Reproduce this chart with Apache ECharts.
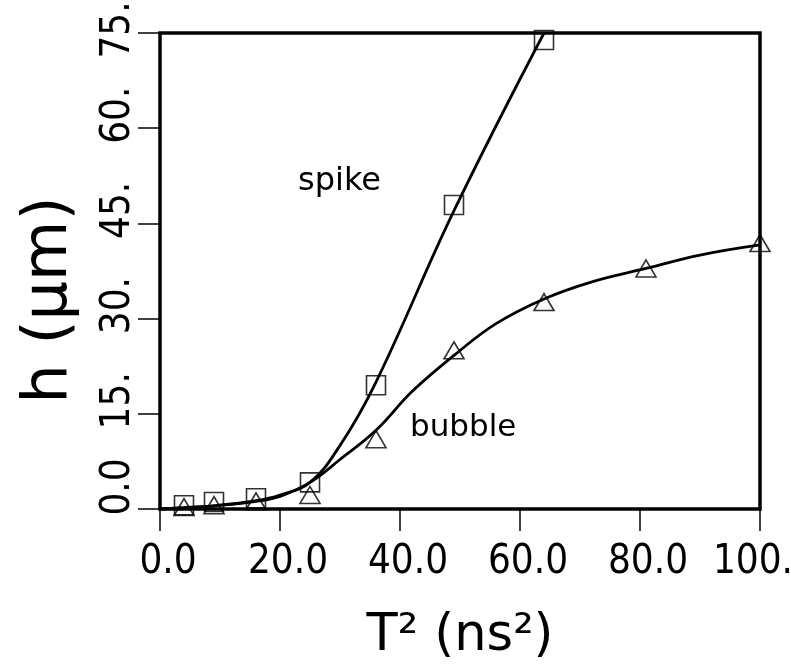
<!DOCTYPE html>
<html>
<head>
<meta charset="utf-8">
<script src="https://cdn.jsdelivr.net/npm/echarts@6/dist/echarts.min.js"></script>
<style>
html,body{margin:0;padding:0;background:#fff;}
#chart{width:791px;height:669px;}
</style>
</head>
<body>
<div id="chart"></div>
<script>
// Data
const xTickLabels = ['0.0', '20.0', '40.0', '60.0', '80.0', '100.'];
const yTickLabels = ['0.0', '15.', '30.', '45.', '60.', '75.'];

// Measured points (T^2 in ns^2, h in um)
const spikeX = [4, 9, 16, 25, 36, 49, 64];
const spikeY = [0.6, 1.1, 1.7, 4.2, 19.5, 47.9, 73.9];
const bubbleX = [4, 9, 16, 25, 36, 49, 64, 81, 100];
const bubbleY = [0.3, 0.6, 1.2, 2.2, 11.0, 25.0, 32.6, 37.9, 41.9];

// Fitted curves
const spikeCurveX = [0, 4, 9, 16, 20, 25, 30, 36, 49, 64];
const spikeCurveY = [0, 0.2, 0.5, 1.3, 2.2, 4.2, 10.0, 20.0, 47.0, 75.0];
const bubbleCurveX = [0, 4, 9, 16, 20, 25, 30, 36, 42, 49, 56, 64, 72, 81, 90, 100];
const bubbleCurveY = [0, 0.2, 0.5, 1.2, 2.0, 4.2, 7.8, 12.4, 18.5, 24.2, 29.2, 33.1, 35.8, 37.9, 40.0, 41.6];

const zip = (xs, ys) => xs.map((x, i) => [x, ys[i]]);

const NARROW = '"Liberation Sans Narrow", "DejaVu Sans Condensed", "Liberation Sans", sans-serif';
const SANS = '"DejaVu Sans", "Liberation Sans", sans-serif';
const LBL = {fontFamily: NARROW, fontSize: 40, color: '#000'};

const chart = echarts.init(document.getElementById('chart'), null, {renderer: 'canvas'});

chart.setOption({
  backgroundColor: '#ffffff',
  animation: false,
  grid: {
    left: 160, right: 31, top: 33, bottom: 160,
    outerBoundsMode: 'none', containLabel: false,
    show: true, borderColor: '#000', borderWidth: 3.5, backgroundColor: 'transparent'
  },
  xAxis: {
    type: 'value', min: 0, max: 100, interval: 20,
    axisLine: {show: false},
    axisTick: {show: true, inside: false, length: 22, lineStyle: {color: '#000', width: 1.5}},
    splitLine: {show: false},
    axisLabel: {
      margin: 34, color: '#000', fontFamily: NARROW, fontSize: 40,
      showMinLabel: true, showMaxLabel: true,
      formatter: (v) => {
        const i = Math.round(v / 20);
        return (i === xTickLabels.length - 1 ? '{b|' : '{a|') + xTickLabels[i] + '}';
      },
      rich: {
        a: Object.assign({padding: [0, 0, 0, 16]}, LBL),
        b: Object.assign({padding: [0, 14, 0, 0]}, LBL)
      }
    }
  },
  yAxis: {
    type: 'value', min: 0, max: 75, interval: 15,
    axisLine: {show: false},
    axisTick: {show: true, inside: false, length: 22, lineStyle: {color: '#000', width: 1.5}},
    splitLine: {show: false},
    axisLabel: {
      margin: 21, rotate: 90, color: '#000', fontFamily: NARROW, fontSize: 40,
      showMinLabel: true, showMaxLabel: true,
      formatter: (v) => {
        const i = Math.round(v / 15);
        const key = i === 0 ? 'z' : (i === yTickLabels.length - 1 ? 't' : 'a');
        return '{' + key + '|' + yTickLabels[i] + '}';
      },
      rich: {
        a: Object.assign({padding: [0, 0, 0, 26]}, LBL),
        z: Object.assign({padding: [0, 0, 0, 44]}, LBL),
        t: Object.assign({padding: [0, 0, 0, 6]}, LBL)
      }
    }
  },
  graphic: [
    {type: 'text', left: 298, top: 166, style: {text: 'spike', fontFamily: SANS, fontSize: 32, fill: '#000'}},
    {type: 'text', left: 410, top: 412, style: {text: 'bubble', fontFamily: SANS, fontSize: 31, fill: '#000'}},
    {type: 'text', x: 460, y: 611, style: {text: 'T² (ns²)', fontFamily: SANS, fontSize: 51, fill: '#000', textAlign: 'center', textVerticalAlign: 'top'}},
    {type: 'text', x: 50, y: 300, rotation: Math.PI / 2, style: {text: 'h (μm)', fontFamily: SANS, fontSize: 62, fill: '#000', textAlign: 'center', textVerticalAlign: 'middle'}}
  ],
  series: [
    {
      type: 'line', data: zip(spikeCurveX, spikeCurveY), smooth: 0.4, showSymbol: false,
      lineStyle: {color: '#000', width: 2.8}, z: 2
    },
    {
      type: 'line', data: zip(bubbleCurveX, bubbleCurveY), smooth: 0.4, showSymbol: false,
      lineStyle: {color: '#000', width: 2.8}, z: 2
    },
    {
      type: 'scatter', data: zip(spikeX, spikeY), symbol: 'rect', symbolSize: 19, clip: false,
      itemStyle: {color: 'rgba(0,0,0,0)', borderColor: '#000', borderWidth: 1.6}, z: 3
    },
    {
      type: 'scatter', data: zip(bubbleX, bubbleY), symbol: 'triangle', symbolSize: [20, 17], clip: false,
      itemStyle: {color: 'rgba(0,0,0,0)', borderColor: '#000', borderWidth: 1.6}, z: 3
    }
  ]
});
</script>
</body>
</html>
